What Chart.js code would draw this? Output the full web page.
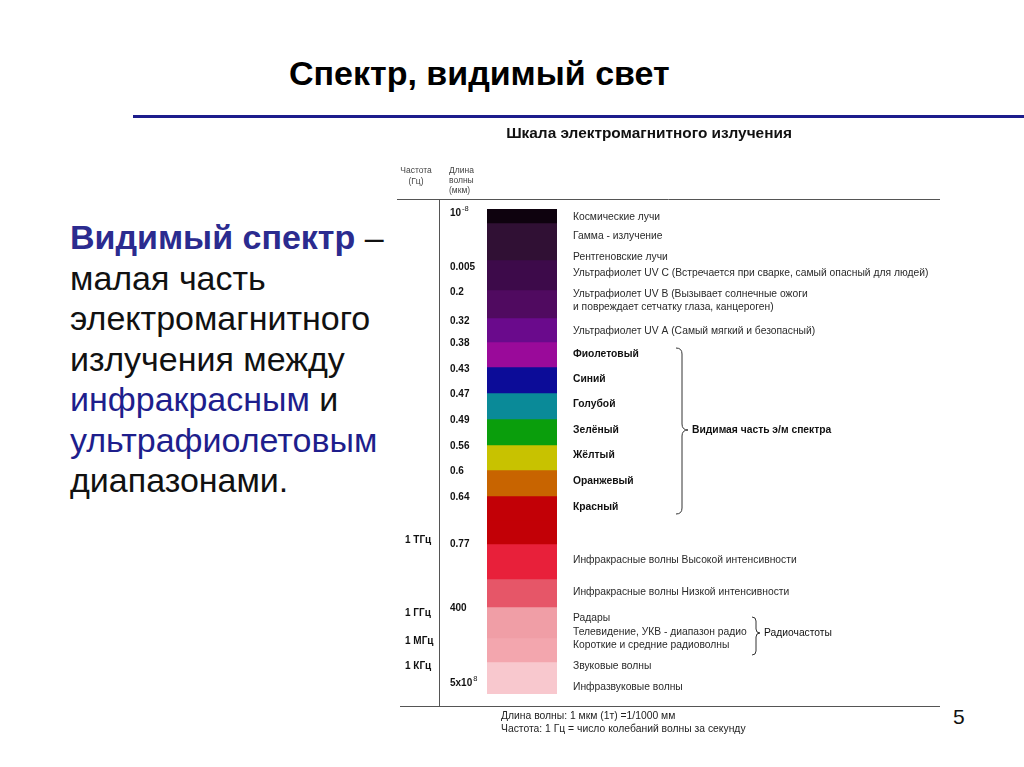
<!DOCTYPE html>
<html><head><meta charset="utf-8">
<script src="https://cdn.jsdelivr.net/npm/chart.js@4.4.0/dist/chart.umd.min.js"></script>
<style>
html,body{margin:0;padding:0;background:#fff;}
body{width:1024px;height:767px;position:relative;overflow:hidden;font-family:"Liberation Sans",Arial,sans-serif;}
#c{position:absolute;left:0;top:0;}
.title{position:absolute;left:289px;top:54px;font-weight:bold;font-size:34px;line-height:38px;color:#000;white-space:nowrap;}
.rule{position:absolute;left:133px;top:115px;width:891px;height:3px;background:#1c1c8c;}
.para{position:absolute;left:70px;top:217px;font-size:34px;line-height:40.5px;color:#111;white-space:nowrap;}
.hl{color:#2b2b8f;font-weight:bold;}
.bl{color:#1e1e8c;}
.pg{position:absolute;left:953px;top:705px;font-size:21px;color:#111;}
</style>
</head><body>
<div class="title">Спектр, видимый свет</div>
<div class="rule"></div>
<div class="para"><span class="hl">Видимый спектр</span> –<br>малая часть<br>электромагнитного<br>излучения между<br><span class="bl">инфракрасным</span> и<br><span class="bl">ультрафиолетовым</span><br>диапазонами.</div>
<div class="pg">5</div>
<canvas id="c" width="1024" height="767"></canvas>
<script>
// ---- data (positions in scale units along the spectrum column, 0 = top) ----
const bandNames = ['Космические','Гамма/Рентген','UV C','UV B','UV A','Фиолетовый','Синий','Голубой','Зелёный','Жёлтый','Оранжевый','Красный','Красный (ИК край)','ИК высокой','ИК низкой','Радары/ТВ','Радиоволны','Звук'];
const bandEdges = [0,14,51,81,109,133,158,184,210,236,261,287,311,335,370,398,429,453,485];
const bandColors = ['#0e020e','#301034','#3d0a4a','#500a60','#6a0a8c','#9a0a9a','#0c0c98','#0a8a98','#0a9e0c','#c8c200','#c86400','#c20006','#c20006','#e8203a','#e65668','#f09ea6','#f3a6ae','#f8c8ce'];

const itemLabels = ['Космические лучи','Гамма - излучение','Рентгеновские лучи',
 'Ультрафиолет UV C (Встречается при сварке, самый опасный для людей)',
 'Ультрафиолет UV B (Вызывает солнечные ожоги','и повреждает сетчатку глаза, канцероген)',
 'Ультрафиолет UV A (Самый мягкий и безопасный)',
 'Фиолетовый','Синий','Голубой','Зелёный','Жёлтый','Оранжевый','Красный',
 'Инфракрасные волны Высокой интенсивности','Инфракрасные волны Низкой интенсивности',
 'Радары','Телевидение, УКВ - диапазон радио','Короткие и средние радиоволны',
 'Звуковые волны','Инфразвуковые волны'];
const itemAt = [8,27,48,64,85,98,122,145,170,195,221,246,272,298,351,383,409,423,436,457,478];
const itemBold = [0,0,0,0,0,0,0,1,1,1,1,1,1,1,0,0,0,0,0,0,0];

const wavelengthLabels = ['10^-8','0.005','0.2','0.32','0.38','0.43','0.47','0.49','0.56','0.6','0.64','0.77','400','5x10^8'];
const wavelengthAt = [4,58,83,112,134,160,185,211,237,262,288,335,399,474];

const freqLabels = ['1 ТГц','1 ГГц','1 МГц','1 КГц'];
const freqAt = [331,404,432,457];

const braces = [
  {from:139, to:305, tip:221, label:'Видимая часть э/м спектра', bold:true},
  {from:408, to:446, tip:424, label:'Радиочастоты', bold:false}
];

// ---- chart ----
const datasets = bandNames.map((n,i)=>({
  label:n,
  data:[[bandEdges[i], bandEdges[i+1]]],
  backgroundColor:bandColors[i],
  borderWidth:0,
  grouped:false,
  barPercentage:1,
  categoryPercentage:1
}));

const FONT = '"Liberation Sans", Arial, sans-serif';

function drawSupText(ctx, txt, x, y, size, bold){
  const parts = txt.split('^');
  const w = bold ? 'bold ' : '';
  ctx.font = w + size + 'px ' + FONT;
  ctx.textBaseline = 'middle';
  ctx.fillText(parts[0], x, y);
  if (parts.length > 1){
    const bw = ctx.measureText(parts[0]).width;
    ctx.font = (size*0.75) + 'px ' + FONT;
    ctx.fillText(parts[1], x + bw + 1, y - size*0.45);
  }
}

const overlay = {
  id:'overlay',
  afterDraw(chart){
    const ctx = chart.ctx, y = chart.scales.y, ca = chart.chartArea;
    ctx.save();
    // frame lines
    ctx.strokeStyle = '#555'; ctx.lineWidth = 1;
    const topLine = Math.round(y.getPixelForValue(0)) - 9.5;
    const botLine = Math.round(y.getPixelForValue(485)) + 12.5;
    ctx.beginPath();
    ctx.moveTo(397, topLine); ctx.lineTo(940, topLine);
    ctx.moveTo(400, botLine); ctx.lineTo(940, botLine);
    ctx.moveTo(439.5, topLine); ctx.lineTo(439.5, botLine);
    ctx.stroke();

    // header
    ctx.fillStyle = '#111';
    ctx.textAlign = 'center'; ctx.textBaseline = 'middle';
    ctx.font = 'bold 15.4px ' + FONT;
    ctx.fillText('Шкала электромагнитного излучения', 649, 134);
    ctx.fillStyle = '#444';
    ctx.font = '8.5px ' + FONT;
    ctx.fillText('Частота', 416, 171);
    ctx.fillText('(Гц)', 416, 182);
    ctx.textAlign = 'left';
    ctx.fillText('Длина', 449, 171);
    ctx.fillText('волны', 449, 180.5);
    ctx.fillText('(мкм)', 449, 191);

    // item labels right of column
    const lx = ca.right + 16;
    itemLabels.forEach((t,i)=>{
      ctx.fillStyle = itemBold[i] ? '#111' : '#2a2a2a';
      ctx.font = (itemBold[i] ? 'bold ' : '') + '10.3px ' + FONT;
      ctx.textAlign = 'left'; ctx.textBaseline = 'middle';
      ctx.fillText(t, lx, y.getPixelForValue(itemAt[i]));
    });

    // wavelength labels
    ctx.fillStyle = '#111'; ctx.textAlign = 'left';
    wavelengthLabels.forEach((t,i)=>{
      drawSupText(ctx, t, ca.left - 37, y.getPixelForValue(wavelengthAt[i]), 10, true);
    });
    // frequency labels
    freqLabels.forEach((t,i)=>{
      drawSupText(ctx, t, 405, y.getPixelForValue(freqAt[i]), 10, true);
    });

    // braces
    const bx = [682, 756], bw = [6, 4];
    braces.forEach((b,k)=>{
      const x = bx[k], w = bw[k];
      const y0 = y.getPixelForValue(b.from), y1 = y.getPixelForValue(b.to), ym = y.getPixelForValue(b.tip);
      ctx.strokeStyle = '#333'; ctx.lineWidth = 1;
      ctx.beginPath();
      ctx.moveTo(x - w, y0);
      ctx.quadraticCurveTo(x, y0, x, y0 + w);
      ctx.lineTo(x, ym - w);
      ctx.quadraticCurveTo(x, ym, x + w, ym);
      ctx.quadraticCurveTo(x, ym, x, ym + w);
      ctx.lineTo(x, y1 - w);
      ctx.quadraticCurveTo(x, y1, x - w, y1);
      ctx.stroke();
      ctx.fillStyle = '#111';
      ctx.font = (b.bold ? 'bold ' : '') + '10.3px ' + FONT;
      ctx.textAlign = 'left'; ctx.textBaseline = 'middle';
      ctx.fillText(b.label, x + w + 4, ym);
    });

    // footer
    ctx.fillStyle = '#222';
    ctx.font = '10.35px ' + FONT;
    ctx.fillText('Длина волны: 1 мкм (1т) =1/1000 мм', 501, 716);
    ctx.fillText('Частота: 1 Гц = число колебаний волны за секунду', 501, 729);
    ctx.restore();
  }
};

new Chart(document.getElementById('c'), {
  type:'bar',
  data:{labels:['Спектр'], datasets},
  options:{
    responsive:false,
    animation:false,
    events:[],
    layout:{padding:{left:487, right:1024-557, top:209, bottom:767-694}},
    plugins:{legend:{display:false}, tooltip:{enabled:false}},
    scales:{
      x:{display:false},
      y:{display:false, reverse:true, min:0, max:485}
    }
  },
  plugins:[overlay]
});
</script>
</body></html>
